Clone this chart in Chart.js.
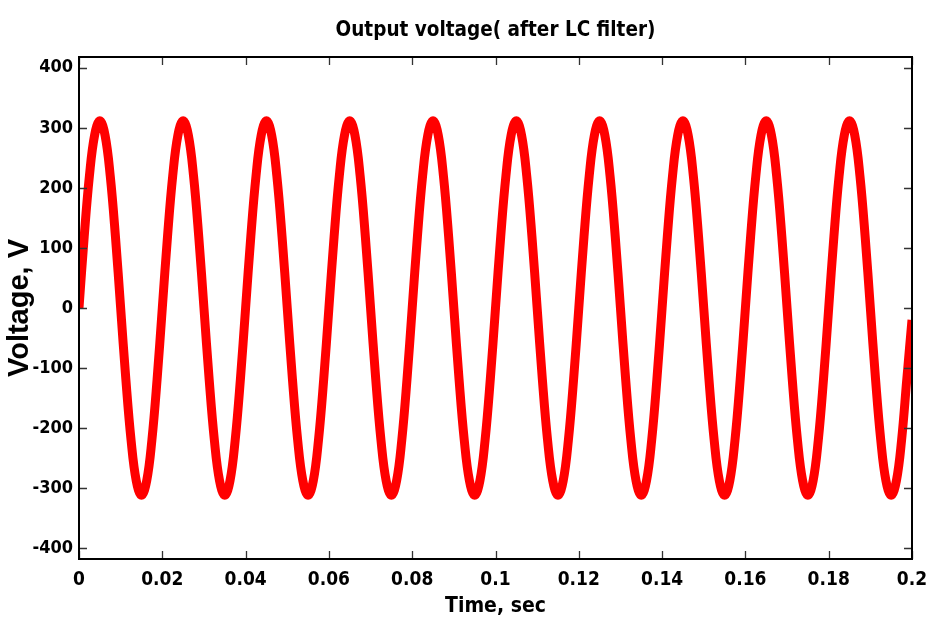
<!DOCTYPE html>
<html>
<head>
<meta charset="utf-8">
<title>Output voltage</title>
<script src="https://cdn.jsdelivr.net/npm/chart.js@4/dist/chart.umd.min.js"></script>
<style>
  html, body { margin: 0; padding: 0; background: #fff; }
  #wrap { width: 928px; height: 625px; }
</style>
</head>
<body>
<div id="wrap"><canvas id="voltChart" width="928" height="625"></canvas></div>
<script>
// Sampling grid of the recorded waveform (seconds)
const sampleStep = 0.00125;

// Output voltage, one row per 20 ms cycle (V)
const voltage = [
    0, 119, 220, 288, 312, 288, 220, 119, 0, -119, -220, -288, -312, -288, -220, -119,
    0, 119, 220, 288, 312, 288, 220, 119, 0, -119, -220, -288, -312, -288, -220, -119,
    0, 119, 220, 288, 312, 288, 220, 119, 0, -119, -220, -288, -312, -288, -220, -119,
    0, 119, 220, 288, 312, 288, 220, 119, 0, -119, -220, -288, -312, -288, -220, -119,
    0, 119, 220, 288, 312, 288, 220, 119, 0, -119, -220, -288, -312, -288, -220, -119,
    0, 119, 220, 288, 312, 288, 220, 119, 0, -119, -220, -288, -312, -288, -220, -119,
    0, 119, 220, 288, 312, 288, 220, 119, 0, -119, -220, -288, -312, -288, -220, -119,
    0, 119, 220, 288, 312, 288, 220, 119, 0, -119, -220, -288, -312, -288, -220, -119,
    0, 119, 220, 288, 312, 288, 220, 119, 0, -119, -220, -288, -312, -288, -220, -119,
    0, 119, 220, 288, 312, 288, 220, 119, 0, -119, -220, -288, -312, -288, -220, -119,
    -20
];

// Axis ticks
const xTicks = [0, 0.02, 0.04, 0.06, 0.08, 0.1, 0.12, 0.14, 0.16, 0.18, 0.2];
const xTickLabels = ['0', '0.02', '0.04', '0.06', '0.08', '0.1', '0.12', '0.14', '0.16', '0.18', '0.2'];
const yTicks = [-400, -300, -200, -100, 0, 100, 200, 300, 400];

const points = voltage.map((v, i) => ({ x: i * sampleStep, y: v }));

const narrowFont = '"DejaVu Sans Condensed", "Liberation Sans Narrow", "Liberation Sans", Arial, sans-serif';
const wideFont = '"Liberation Sans", Arial, sans-serif';

// Matlab-style box with inward tick marks on all four sides
const boxTicks = {
    id: 'boxTicks',
    afterDatasetsDraw(chart) {
        const { ctx, chartArea: a, scales } = chart;
        const len = 8;
        ctx.save();
        ctx.strokeStyle = '#333';
        ctx.lineWidth = 1.3;
        ctx.beginPath();
        xTicks.forEach(v => {
            const px = Math.round(scales.x.getPixelForValue(v)) + 0.5;
            ctx.moveTo(px, a.bottom); ctx.lineTo(px, a.bottom - len);
            ctx.moveTo(px, a.top); ctx.lineTo(px, a.top + len);
        });
        yTicks.forEach(v => {
            const py = Math.round(scales.y.getPixelForValue(v)) + 0.5;
            ctx.moveTo(a.left, py); ctx.lineTo(a.left + len, py);
            ctx.moveTo(a.right, py); ctx.lineTo(a.right - len, py);
        });
        ctx.stroke();
        ctx.strokeStyle = '#000';
        ctx.lineWidth = 2;
        ctx.strokeRect(a.left, a.top, a.right - a.left, a.bottom - a.top);
        ctx.restore();
    }
};

new Chart(document.getElementById('voltChart'), {
    type: 'line',
    data: {
        datasets: [{
            label: 'Output voltage',
            data: points,
            borderColor: '#ff0000',
            borderWidth: 9,
            pointRadius: 0,
            tension: 0.4,
            fill: false
        }]
    },
    options: {
        responsive: false,
        animation: false,
        layout: { padding: { left: 0, right: 16, top: 0, bottom: 0 } },
        plugins: {
            legend: { display: false },
            tooltip: { enabled: false }
        },
        scales: {
            // top axis only carries the chart title, centred over the plot box
            xTop: {
                type: 'linear',
                position: 'top',
                min: 0,
                max: 0.2,
                afterFit: s => { s.height = 57; s.paddingLeft = 0; s.paddingRight = 0; },
                grid: { display: false, drawTicks: false, tickLength: 0 },
                border: { display: false },
                ticks: { display: false },
                title: {
                    display: true,
                    text: 'Output voltage( after LC filter)',
                    color: '#000',
                    font: { family: narrowFont, size: 20.5, weight: 'bold', lineHeight: 1.2 },
                    padding: { top: 18, bottom: 0 }
                }
            },
            x: {
                type: 'linear',
                position: 'bottom',
                min: 0,
                max: 0.2,
                afterBuildTicks: s => { s.ticks = xTicks.map(v => ({ value: v })); },
                afterFit: s => { s.height = 66; s.paddingLeft = 0; s.paddingRight = 0; },
                grid: { display: false, drawTicks: false, tickLength: 0 },
                border: { display: false },
                ticks: {
                    color: '#000',
                    padding: 10,
                    maxRotation: 0,
                    autoSkip: false,
                    font: { family: narrowFont, size: 19, weight: 'bold' },
                    callback: (v, i) => xTickLabels[i]
                },
                title: {
                    display: true,
                    text: 'Time, sec',
                    color: '#000',
                    font: { family: narrowFont, size: 21, weight: 'bold', lineHeight: 1.2 },
                    padding: { top: 0, bottom: 6 }
                }
            },
            y: {
                min: -418,
                max: 418,
                afterBuildTicks: s => { s.ticks = yTicks.map(v => ({ value: v })); },
                afterFit: s => { s.width = 79; },
                grid: { display: false, drawTicks: false, tickLength: 0 },
                border: { display: false },
                ticks: {
                    color: '#000',
                    padding: 6,
                    font: { family: narrowFont, size: 18, weight: 'bold' }
                },
                title: {
                    display: true,
                    text: 'Voltage, V',
                    color: '#000',
                    font: { family: wideFont, size: 29, weight: 'bold', lineHeight: 1.2 },
                    padding: { top: 3, bottom: 0 }
                }
            }
        }
    },
    plugins: [boxTicks]
});
</script>
</body>
</html>
